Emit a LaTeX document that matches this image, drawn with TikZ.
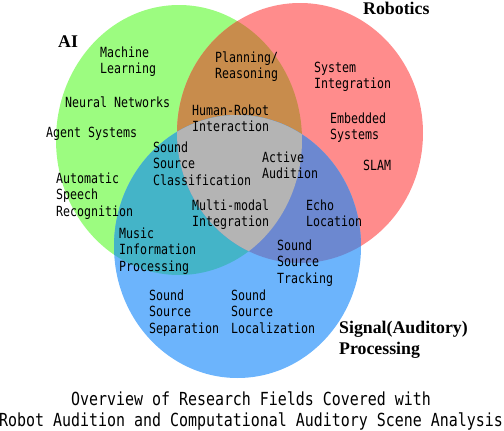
\documentclass[tikz,border=0pt]{standalone}
\usepackage{fontspec}
\newfontfamily\monofam[FakeStretch=0.83]{DejaVu Sans Mono}
\newfontfamily\labfam{Liberation Serif}
\definecolor{cAI}{HTML}{9CFC80}
\definecolor{cRob}{HTML}{FF8C8C}
\definecolor{cSig}{HTML}{6CB4FC}
\definecolor{cAIRob}{HTML}{C88C4C}
\definecolor{cAISig}{HTML}{44B4C8}
\definecolor{cRobSig}{HTML}{6C88D0}
\definecolor{cAll}{HTML}{B4B4B4}
\tikzset{
  txt/.style={font=\monofam\fontsize{14}{16.8}\selectfont, align=left, anchor=base west, inner sep=0pt},
  lab/.style={font=\labfam\bfseries\fontsize{17.8}{21.5}\selectfont, align=left, anchor=base west, inner sep=0pt},
  captxt/.style={font=\monofam\fontsize{18}{21}\selectfont, align=center, anchor=base, inner sep=0pt}
}
\newcommand{\ellAI}{(179,140) ellipse [x radius=123, y radius=135]}
\newcommand{\ellRob}{(300,133) ellipse [x radius=123, y radius=130]}
\newcommand{\ellSig}{(237.5,246.5) ellipse [x radius=123.5, y radius=131.5]}
\begin{document}
\begin{tikzpicture}[x=1pt,y=-1pt]
\useasboundingbox (0,0) rectangle (504,431);
\fill[cAI] \ellAI;
\fill[cRob] \ellRob;
\fill[cSig] \ellSig;
\begin{scope}
  \clip \ellAI;
  \fill[cAIRob] \ellRob;
  \fill[cAISig] \ellSig;
\end{scope}
\begin{scope}
  \clip \ellRob;
  \fill[cRobSig] \ellSig;
\end{scope}
\begin{scope}
  \clip \ellAI;
  \clip \ellRob;
  \fill[cAll] \ellSig;
\end{scope}
% set labels (base = last line)
\node[lab] (ai) at (58,47) {AI};
\node[lab] (rob) at (363,15) {Robotics};
\node[lab] (sig) at (339,354.5) {Signal(Auditory)\\Processing};
% topics
\node[txt] (ml) at (100,73.8) {Machine\\Learning};
\node[txt] (nn) at (65,107) {Neural Networks};
\node[txt] (as) at (46,137) {Agent Systems};
\node[txt] (asr) at (56,216.6) {Automatic\\Speech\\Recognition};
\node[txt] (ssc) at (153,185.6) {Sound\\Source\\Classification};
\node[txt] (pr) at (215,78.8) {Planning/\\Reasoning};
\node[txt] (hri) at (192,131.8) {Human-Robot\\Interaction};
\node[txt] (si) at (314,88.8) {System\\Integration};
\node[txt] (es) at (330,139.8) {Embedded\\Systems};
\node[txt] (slam) at (363,170) {SLAM};
\node[txt] (aa) at (262,178.8) {Active\\Audition};
\node[txt] (mmi) at (192,226.8) {Multi-modal\\Integration};
\node[txt] (el) at (306,226.8) {Echo\\Location};
\node[txt] (mip) at (119,271.6) {Music\\Information\\Processing};
\node[txt] (sst) at (277,283.6) {Sound\\Source\\Tracking};
\node[txt] (sss) at (149,333.6) {Sound\\Source\\Separation};
\node[txt] (ssl) at (231,333.6) {Sound\\Source\\Localization};
% caption
\node[captxt] (cap) at (251,426) {Overview of Research Fields Covered with\\Robot Audition and Computational Auditory Scene Analysis};
\end{tikzpicture}
\end{document}
